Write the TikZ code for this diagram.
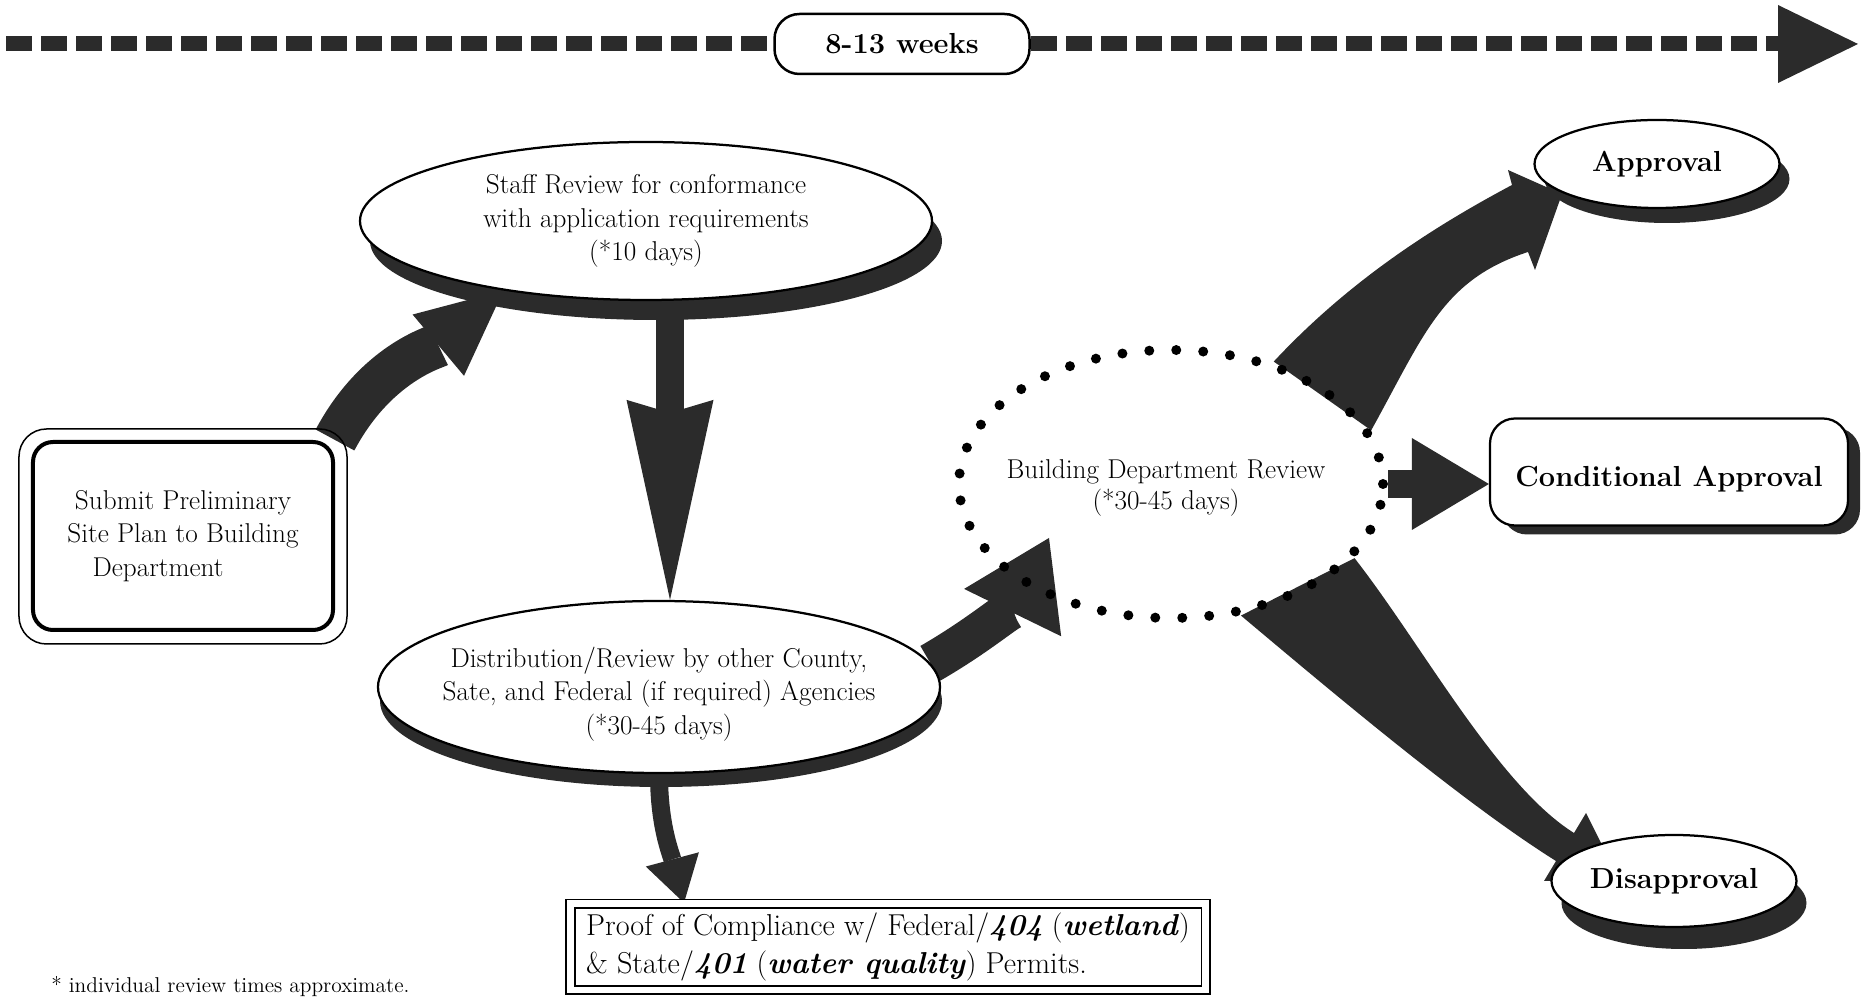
\documentclass[tikz,border=0pt]{standalone}
\usetikzlibrary{arrows.meta,shapes.geometric,shadows,positioning}
\definecolor{ink}{gray}{0.17}
\tikzset{
  oval/.style 2 args={ellipse, draw, line width=0.45mm, fill=white, inner sep=0pt,
    drop shadow={shadow xshift=#1, shadow yshift=#2, fill=ink, opacity=1}},
  boxtext/.style={align=center, font=\fontsize{15.5}{19}\selectfont, inner sep=0pt},
  result/.style={font=\fontsize{16.5}{20}\selectfont\bfseries},
  fatarrow/.style={draw=ink, line width=#1},
  timebar/.style={draw=ink, line width=3mm, dash pattern=on 5.2mm off 1.8mm},
}
\begin{document}
\begin{tikzpicture}[x=0.2mm, y=0.2mm]
	\useasboundingbox (0,0) rectangle (1865,997);
	
	\pgfdeclarelayer{background}
	\pgfsetlayers{background,main}
	
	% time line
	\node[draw, line width=0.5mm, rounded corners=5mm, fill=white, minimum width=51mm, minimum height=12mm, result] (weeks) at (902,953) {8-13 weeks};
	\coordinate (tstart) at (6,953);
	\coordinate (tend) at (1858,953);
	\draw[timebar] (tstart) -- (weeks.west);
	\draw[timebar, -{Triangle[length=16mm, width=15.6mm, line width=0pt]}] (weeks.east) -- (tend);
	
	% steps
	\node[draw, line width=0.8mm, rounded corners=4mm, fill=white, minimum width=60mm, minimum height=37.6mm, boxtext] (submit) at (183,461) {Submit Preliminary\\Site Plan to Building\\Department\hspace*{10mm}};
	\draw[line width=0.3mm, rounded corners=5.5mm] ([shift={(-12,11)}]submit.north west) rectangle ([shift={(12,-12)}]submit.south east);
	
	\node[oval={2mm}{-4mm}, minimum width=114.4mm, minimum height=31.6mm, boxtext] (staff) at (646,776) {Staff Review for conformance\\with application requirements\\(*10 days)};
	
	\node[oval={0.4mm}{-2.8mm}, minimum width=112.4mm, minimum height=34.4mm] (dist) at (659,310) {};
	\node[boxtext] (dist-txt) at ([yshift=-1.4mm]dist.center) {Distribution/Review by other County,\\Sate, and Federal (if required) Agencies\\(*30-45 days)};
	
	\node[ellipse, draw, line width=2mm, dash pattern=on 0pt off 5.4mm, line cap=round, minimum width=84.8mm, minimum height=53.6mm, inner sep=0pt] (bdr) at (1171,513) {};
	\node[boxtext, font=\fontsize{15.5}{17.5}\selectfont] (bdr-txt) at ([shift={(-5,-4)}]bdr.center) {Building Department Review\\(*30-45 days)};
	
	% outcomes
	\node[oval={2mm}{-3mm}, result, minimum width=49mm, minimum height=17.6mm] (appr) at (1657,833) {Approval};
	\node[draw, line width=0.45mm, rounded corners=5mm, fill=white, result, text height=7mm, text depth=1.2mm, minimum width=71.6mm, minimum height=21.4mm, drop shadow={shadow xshift=2.4mm, shadow yshift=-1.8mm, fill=ink, opacity=1}] (cond) at (1669,525) {Conditional Approval};
	\node[oval={2mm}{-4.4mm}, result, minimum width=49mm, minimum height=18.4mm] (disap) at (1674,116) {Disapproval};
	
	\node[draw, double, double distance=1.3mm, line width=0.35mm, fill=white, minimum width=127mm, minimum height=17.3mm, inner xsep=2.4mm, align=left, font=\fontsize{17.2}{22}\selectfont] (proof) at (888,50) {Proof of Compliance w/ Federal/\textbf{\textit{404}} (\textbf{\textit{wetland}})\\\& State/\textbf{\textit{401}} (\textbf{\textit{water quality}}) Permits.};
	
	\node[anchor=base west, inner sep=0pt, font=\fontsize{12.2}{14}\selectfont] (note) at (51,4) {* individual review times approximate.};
	
	% connectors
	\begin{pgfonlayer}{background}
		\draw[fatarrow=8.8mm, -{Triangle[length=17mm, width=16mm, line width=0pt]}] (submit.north east) to[out=62, in=220] (staff.206);
		\draw[fatarrow=5.6mm, -{Stealth[length=40mm, width=17.4mm, inset=2.6mm, line width=0pt]}] ([xshift=4.8mm]staff.south) -- ([xshift=4.8mm]staff.south |- dist.north);
		\draw[fatarrow=3.6mm, -{Triangle[length=9mm, width=11mm, line width=0pt]}] (dist.south) to[out=-90, in=105] ([xshift=5mm]dist.south |- proof.north);
		\draw[fatarrow=8mm, -{Triangle[length=16.6mm, width=21.6mm, line width=0pt]}] (dist.5) to[out=30, in=244] ([shift={(-122,-54)}]bdr.center);
		\fill[ink] (bdr.50) .. controls +(47:110) and +(208:90) .. ([shift={(-145,-21)}]appr.center) -- ([shift={(-149,-6)}]appr.center) -- ([shift={(-95,-30)}]appr.center) -- ([shift={(-122,-106)}]appr.center) -- ([shift={(-129,-88)}]appr.center) .. controls +(198:90) and +(61:110) .. (bdr.15) -- cycle;
		\draw[fatarrow=5.6mm, -{Triangle[length=15.4mm, width=18.4mm, line width=0pt]}] (bdr.east) -- (bdr.east -| cond.west);
		\fill[ink] (bdr.-22) .. controls +(-52:110) and +(148:90) .. ([shift={(-100,48)}]disap.center) -- ([shift={(-88,68)}]disap.center) -- ([shift={(-54,0)}]disap.center) -- ([shift={(-130,0)}]disap.center) -- ([shift={(-118,20)}]disap.center) .. controls +(148:110) and +(-40:110) .. (bdr.-62) -- cycle;
	\end{pgfonlayer}
\end{tikzpicture}
\end{document}
